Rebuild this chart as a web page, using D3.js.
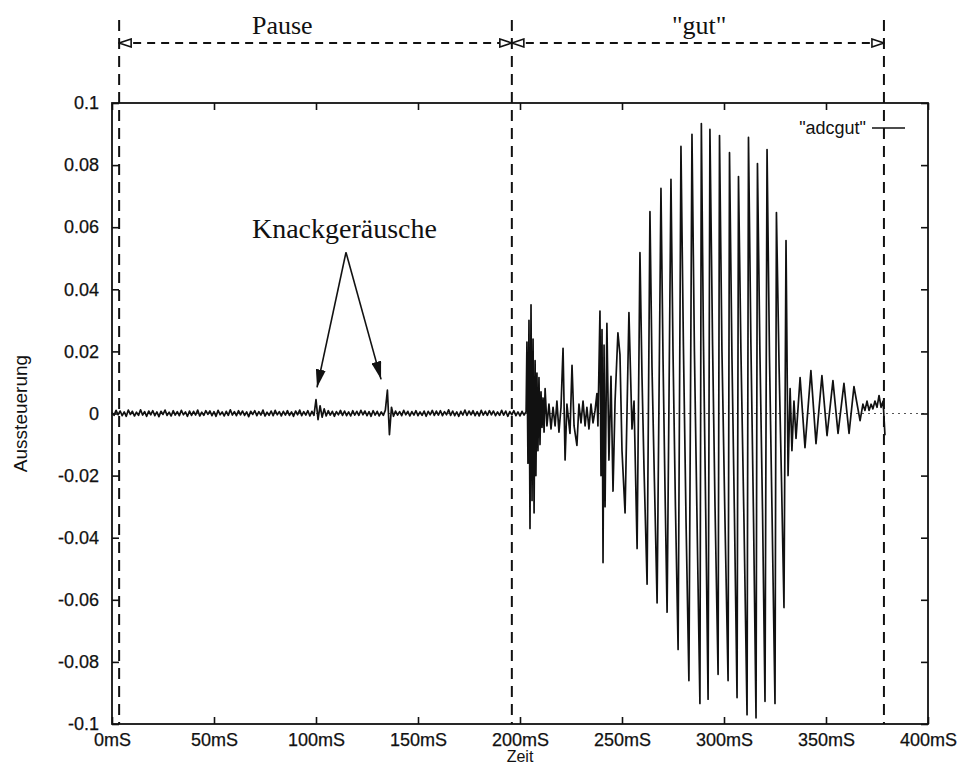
<!DOCTYPE html>
<html>
<head>
<meta charset="utf-8">
<script src="https://cdn.jsdelivr.net/npm/d3@7"></script>
<style>
  html, body { margin: 0; padding: 0; background: #fff; }
  svg { display: block; }
</style>
</head>
<body>
<div id="chart"></div>
<script>
// Axis ticks
const xTickValues = [0, 50, 100, 150, 200, 250, 300, 350, 400];
const xTickLabels = ['0mS', '50mS', '100mS', '150mS', '200mS', '250mS', '300mS', '350mS', '400mS'];
const yTickValues = [0.1, 0.08, 0.06, 0.04, 0.02, 0, -0.02, -0.04, -0.06, -0.08, -0.1];
const yTickLabels = ['0.1', '0.08', '0.06', '0.04', '0.02', '0', '-0.02', '-0.04', '-0.06', '-0.08', '-0.1'];

// Segment borders (ms) and their names
const segmentBounds = [3.5, 196, 378.4];
const segmentLabels = ['Pause', '"gut"'];
const segmentLabelMs = [68.6, 274.5];

// Pause part, one reading per ms (0..203 ms), incl. the two clicks at 100 and 135 ms
const noiseStepMs = 1;
const pauseNoise = [
  .0003,-.0006,.0010,-.0004,.0008,-.0007,.0005,-.0009,.0011,-.0003,.0007,-.0008,.0004,-.0006,.0012,-.0005,.0006,-.0009,.0008,-.0004,
  .0009,-.0007,.0005,-.0010,.0007,-.0003,.0011,-.0006,.0004,-.0008,.0009,-.0005,.0006,-.0007,.0010,-.0004,.0005,-.0009,.0008,-.0006,
  .0007,-.0005,.0011,-.0008,.0004,-.0006,.0009,-.0003,.0008,-.0007,.0006,-.0009,.0010,-.0004,.0005,-.0008,.0007,-.0006,.0012,-.0005,
  .0006,-.0007,.0009,-.0004,.0008,-.0006,.0005,-.0010,.0007,-.0003,.0009,-.0007,.0006,-.0005,.0011,-.0008,.0004,-.0006,.0008,-.0007,
  .0010,-.0004,.0006,-.0008,.0007,-.0005,.0009,-.0006,.0005,-.0009,.0008,-.0004,.0011,-.0007,.0006,-.0005,.0009,-.0008,.0007,-.0006,
  .0045,-.0020,.0025,-.0012,.0015,
  -.0008,.0009,-.0005,.0007,-.0009,.0006,-.0004,.0010,-.0006,.0008,-.0007,.0005,-.0008,.0009,-.0005,
  .0007,-.0006,.0010,-.0004,.0008,-.0007,.0006,-.0009,.0009,-.0005,.0007,-.0008,.0005,-.0006,.0011,
  .0075,-.0068,.0020,
  -.0009,.0008,-.0005,.0006,-.0007,.0010,-.0004,.0007,-.0008,.0006,-.0005,.0009,-.0007,.0005,-.0006,.0008,-.0009,.0007,-.0004,.0010,-.0006,.0008,
  -.0005,.0009,-.0007,.0006,-.0004,.0012,-.0006,.0008,-.0007,.0005,-.0009,.0007,-.0005,.0011,-.0006,.0008,-.0004,.0009,-.0007,.0006,
  -.0008,.0010,-.0005,.0007,-.0006,.0009,-.0004,.0008,-.0007,.0005,-.0006,.0010,-.0005,.0008,-.0009,.0006,-.0004,.0009,-.0007,.0005,-.0008,.0007,-.0005,.0006
];

// "gut" part, [ms, value]
const speechSamples = [
  [203.4,.023],[203.9,-.016],[204.4,.030],[204.9,-.037],[205.4,.035],[205.9,-.028],[206.4,.024],[206.9,-.032],
  [207.4,.017],[207.8,-.020],[208.3,.013],[208.8,-.012],[209.3,.0116],[209.8,-.010],[210.3,.007],[210.8,-.0045],
  [211.3,.005],[211.8,-.006],[212.3,.008],[213.2,-.004],[214.2,.003],[215.2,-.005],[216.2,.002],[217.2,-.004],
  [218.1,.004],[219.1,-.006],[220.1,.002],[221.1,.021],[222.1,-.015],[223.0,.003],[224.5,-.0064],[225.5,.0155],
  [226.5,-.004],[227.9,-.0103],[228.9,.003],[229.9,-.003],[230.9,.004],[231.9,-.004],[232.8,.002],[233.8,-.005],
  [234.8,.003],[235.8,-.003],[236.8,.001],[237.7,.0064],[238.2,-.004],
  [239.2,.033],[239.7,-.020],[240.2,.027],[240.7,-.048],[241.2,.022],[241.7,-.030],[242.6,.029],[243.6,-.015],
  [244.6,.012],[245.6,-.025],[246.6,.004],[248.0,.026],[249.0,.019],[250.0,-.012],[251.5,-.032],[253.4,.0325],
  [254.9,-.005],[255.9,.004],[257.4,-.0435],
  [258.8,.0518],[259.8,.012],[260.8,-.018],[262.3,-.055],
  [263.7,.065],[264.7,.015],[265.9,-.022],[267.2,-.061],
  [269.1,.0725],[270.1,.018],[271.1,-.025],[272.1,-.064],
  [274.0,.0754],[275.0,.020],[276.2,-.030],[277.5,-.076],
  [278.9,.086],[280.1,.022],[281.4,-.035],[282.8,-.086],
  [284.3,.0899],[285.5,.020],[286.8,-.035],[288.2,-.0934],
  [288.9,.0934],[289.9,.025],[291.1,-.035],[292.2,-.092],
  [293.1,.0915],[294.4,.022],[295.6,-.030],[297.1,-.084],
  [297.8,.0895],[299.0,.020],[300.5,-.035],[302.0,-.086],
  [302.7,.084],[303.9,.018],[305.1,-.032],[306.4,-.0915],
  [307.1,.0763],[308.3,.020],[309.8,-.035],[311.3,-.097],
  [312.0,.0889],[313.2,.022],[314.5,-.035],[315.7,-.098],
  [316.4,.0805],[317.6,.020],[318.9,-.032],[320.1,-.0927],
  [321.1,.085],[322.3,.018],[323.5,-.030],[325.0,-.0934],
  [325.7,.0647],[327.0,.015],[328.2,-.022],[329.4,-.0625],
  [330.4,.0557],
  [331.4,-.020],[332.4,.008],[333.3,-.012],[334.3,.004],[335.3,-.008],[337.3,.0116],[339.7,-.011],[342.6,.0138],
  [345.1,-.0097],[348.0,.0122],[350.5,-.0071],[353.4,.0106],[355.9,-.0064],[358.8,.0097],[361.3,-.0064],[363.7,.0087],
  [366.7,-.0023],[368.1,.003],[369.1,.001],[370.1,.004],[371.1,.001],[372.1,.003],[373.0,.0015],[374.0,.004],
  [375.0,.002],[376.0,.0058],[377.0,.002],[378.0,.004],[378.9,-.007]
];

// Annotation (data units)
const knackText = 'Knackgeräusche';
const knackTextAt = [68.6, 0.0564];
const knackFrom = [114.7, 0.0519];
const knackTargets = [[100.5, 0.0084], [131.9, 0.011]];
const seriesName = '"adcgut"';

const width = 962;
const height = 766;
const margin = { top: 103, right: 34, bottom: 42, left: 112 };
const ink = '#111';
const sans = '"Liberation Sans", Arial, Helvetica, sans-serif';
const serif = '"Liberation Serif", "Times New Roman", serif';

const svg = d3.select('#chart')
  .append('svg')
  .attr('width', width)
  .attr('height', height);

const defs = svg.append('defs');

// open head for the segment arrows
defs.append('marker')
  .attr('id', 'open-head')
  .attr('viewBox', '0 0 14 10')
  .attr('refX', 13)
  .attr('refY', 5)
  .attr('markerWidth', 14)
  .attr('markerHeight', 10)
  .attr('markerUnits', 'userSpaceOnUse')
  .attr('orient', 'auto-start-reverse')
  .append('path')
  .attr('d', 'M1,1 L13,5 L1,9 Z')
  .attr('fill', '#fff')
  .attr('stroke', ink)
  .attr('stroke-width', 1.6);

// filled head for the click arrows
defs.append('marker')
  .attr('id', 'solid-head')
  .attr('viewBox', '0 0 18 10')
  .attr('refX', 18)
  .attr('refY', 5)
  .attr('markerWidth', 18)
  .attr('markerHeight', 10)
  .attr('markerUnits', 'userSpaceOnUse')
  .attr('orient', 'auto')
  .append('path')
  .attr('d', 'M0,0 L18,5 L0,10 Z')
  .attr('fill', ink);

const x = d3.scaleLinear()
  .domain([0, 400])
  .range([margin.left, width - margin.right]);

const y = d3.scaleLinear()
  .domain([-0.1, 0.1])
  .range([height - margin.bottom, margin.top]);

const plotTop = margin.top;
const plotBottom = height - margin.bottom;
const plotLeft = margin.left;
const plotRight = width - margin.right;

// dotted zero axis
svg.append('line')
  .attr('x1', plotLeft)
  .attr('x2', plotRight)
  .attr('y1', y(0))
  .attr('y2', y(0))
  .attr('stroke', '#555')
  .attr('stroke-width', 1)
  .attr('stroke-dasharray', '2,4');

// Axes, ticks pointing inwards on all four sides
function styleAxis(g) {
  g.select('.domain').remove();
  g.attr('font-family', sans).attr('font-size', 18).attr('color', ink);
  g.selectAll('line').attr('stroke-width', 1.6);
  g.selectAll('text').attr('stroke', ink).attr('stroke-width', 0.25);
}

svg.append('g')
  .attr('transform', `translate(${plotLeft},0)`)
  .call(d3.axisLeft(y).tickValues(yTickValues).tickFormat((d, i) => yTickLabels[i])
    .tickSizeInner(-7).tickSizeOuter(0).tickPadding(13))
  .call(styleAxis);

svg.append('g')
  .attr('transform', `translate(${plotRight},0)`)
  .call(d3.axisRight(y).tickValues(yTickValues).tickFormat(() => '')
    .tickSizeInner(-7).tickSizeOuter(0))
  .call(styleAxis);

svg.append('g')
  .attr('transform', `translate(0,${plotBottom})`)
  .call(d3.axisBottom(x).tickValues(xTickValues).tickFormat((d, i) => xTickLabels[i])
    .tickSizeInner(-7).tickSizeOuter(0).tickPadding(9))
  .call(styleAxis);

svg.append('g')
  .attr('transform', `translate(0,${plotTop})`)
  .call(d3.axisTop(x).tickValues(xTickValues).tickFormat(() => '')
    .tickSizeInner(-7).tickSizeOuter(0))
  .call(styleAxis);

// frame
svg.append('rect')
  .attr('x', plotLeft)
  .attr('y', plotTop)
  .attr('width', plotRight - plotLeft)
  .attr('height', plotBottom - plotTop)
  .attr('fill', 'none')
  .attr('stroke', ink)
  .attr('stroke-width', 1.8);

// the signal
const trace = pauseNoise.map((v, i) => [i * noiseStepMs, v]).concat(speechSamples);

const line = d3.line()
  .x(d => x(d[0]))
  .y(d => y(d[1]))
  .curve(d3.curveLinear);

svg.append('path')
  .datum(trace)
  .attr('d', line)
  .attr('fill', 'none')
  .attr('stroke', ink)
  .attr('stroke-width', 1.7)
  .attr('stroke-linejoin', 'round');

// segment borders
svg.selectAll('.seg-border')
  .data(segmentBounds)
  .enter()
  .append('line')
  .attr('class', 'seg-border')
  .attr('x1', d => x(d))
  .attr('x2', d => x(d))
  .attr('y1', plotTop - 83)
  .attr('y2', plotBottom)
  .attr('stroke', ink)
  .attr('stroke-width', 2)
  .attr('stroke-dasharray', '11,7');

const spans = segmentLabels.map((label, i) => ({ label, from: segmentBounds[i], to: segmentBounds[i + 1], at: segmentLabelMs[i] }));

svg.selectAll('.seg-arrow')
  .data(spans)
  .enter()
  .append('line')
  .attr('class', 'seg-arrow')
  .attr('x1', d => x(d.from))
  .attr('x2', d => x(d.to))
  .attr('y1', plotTop - 60)
  .attr('y2', plotTop - 60)
  .attr('stroke', ink)
  .attr('stroke-width', 2)
  .attr('stroke-dasharray', '8,6')
  .attr('marker-start', 'url(#open-head)')
  .attr('marker-end', 'url(#open-head)');

svg.selectAll('.seg-label')
  .data(spans)
  .enter()
  .append('text')
  .attr('class', 'seg-label')
  .attr('x', d => x(d.at))
  .attr('y', plotTop - 69)
  .attr('font-family', serif)
  .attr('font-size', 26)
  .attr('fill', ink)
  .text(d => d.label);

// clicks annotation
svg.append('text')
  .attr('x', x(knackTextAt[0]))
  .attr('y', y(knackTextAt[1]))
  .attr('font-family', serif)
  .attr('font-size', 28)
  .attr('fill', ink)
  .text(knackText);

svg.selectAll('.knack-arrow')
  .data(knackTargets)
  .enter()
  .append('line')
  .attr('class', 'knack-arrow')
  .attr('x1', x(knackFrom[0]))
  .attr('y1', y(knackFrom[1]))
  .attr('x2', d => x(d[0]))
  .attr('y2', d => y(d[1]))
  .attr('stroke', ink)
  .attr('stroke-width', 1.6)
  .attr('marker-end', 'url(#solid-head)');

// legend
svg.append('text')
  .attr('x', plotRight - 62)
  .attr('y', plotTop + 31)
  .attr('text-anchor', 'end')
  .attr('font-family', sans)
  .attr('font-size', 18)
  .attr('fill', ink)
  .text(seriesName);

svg.append('line')
  .attr('x1', plotRight - 56)
  .attr('x2', plotRight - 23)
  .attr('y1', plotTop + 25)
  .attr('y2', plotTop + 25)
  .attr('stroke', ink)
  .attr('stroke-width', 1.6);

// axis titles
svg.append('text')
  .attr('x', (plotLeft + plotRight) / 2)
  .attr('y', height - 4)
  .attr('text-anchor', 'middle')
  .attr('font-family', sans)
  .attr('font-size', 16)
  .attr('fill', ink)
  .text('Zeit');

svg.append('text')
  .attr('transform', `translate(20,${(plotTop + plotBottom) / 2}) rotate(-90)`)
  .attr('text-anchor', 'middle')
  .attr('dy', '0.35em')
  .attr('font-family', sans)
  .attr('font-size', 19)
  .attr('fill', ink)
  .text('Aussteuerung');
</script>
</body>
</html>
